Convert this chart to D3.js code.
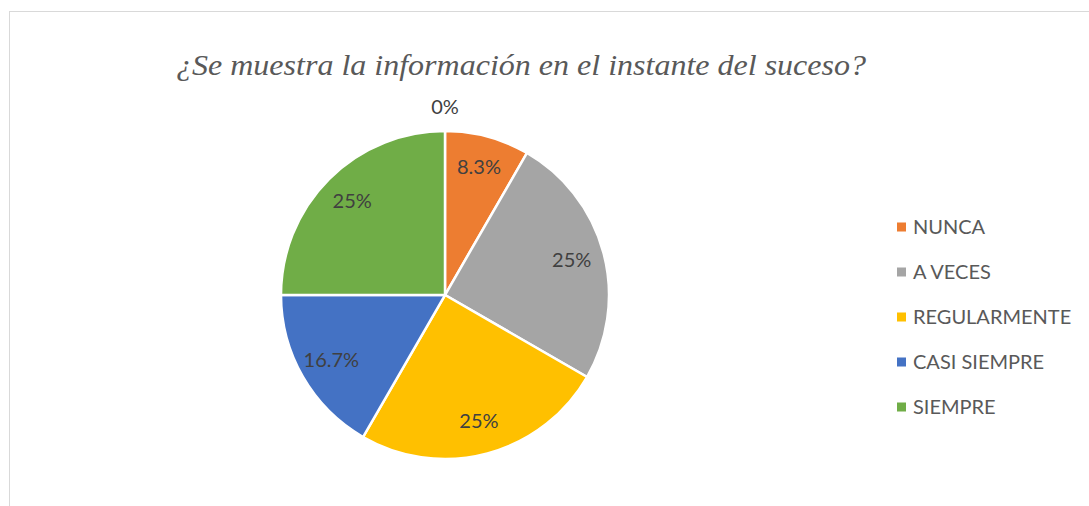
<!DOCTYPE html>
<html>
<head>
<meta charset="utf-8">
<script src="https://cdn.jsdelivr.net/npm/d3@7"></script>
<style>
  body { margin: 0; background: #fff; }
  svg { display: block; }
</style>
</head>
<body>
<div id="chart"></div>
<script>
const svgWidth = 1089;
const svgHeight = 506;

// data (counts out of 12 answers)
const categories = ["", "NUNCA", "A VECES", "REGULARMENTE", "CASI SIEMPRE", "SIEMPRE"];
const values = [0, 1, 3, 3, 2, 3];
const labels = ["0%", "8.3%", "25%", "25%", "16.7%", "25%"];
const colors = ["#FFFFFF", "#ED7D31", "#A5A5A5", "#FFC000", "#4472C4", "#70AD47"];

const title = "¿Se muestra la información en el instante del suceso?";

const cx = 445, cy = 295, radius = 164;

const svg = d3.select("#chart")
  .append("svg")
  .attr("width", svgWidth)
  .attr("height", svgHeight);

// chart frame (only top and left edges visible)
svg.append("rect")
  .attr("x", 9.5)
  .attr("y", 11.5)
  .attr("width", svgWidth)
  .attr("height", svgHeight)
  .attr("fill", "none")
  .attr("stroke", "#d9d9d9")
  .attr("stroke-width", 1);

svg.append("text")
  .attr("x", 521)
  .attr("y", 75)
  .attr("text-anchor", "middle")
  .attr("textLength", 690)
  .attr("lengthAdjust", "spacingAndGlyphs")
  .style("font-family", "'Liberation Serif', 'Times New Roman', 'DejaVu Serif', serif")
  .style("font-style", "italic")
  .style("font-size", "30px")
  .style("fill", "#595959")
  .text(title);

const data = categories.map((c, i) => ({ name: c, value: values[i], label: labels[i], color: colors[i] }));

const pie = d3.pie().sort(null).value(d => d.value);
const arcs = pie(data);

const arc = d3.arc().innerRadius(0).outerRadius(radius);
const labelArc = d3.arc().innerRadius(radius * 0.8).outerRadius(radius * 0.8);
const outerArc = d3.arc().innerRadius(radius * 1.14).outerRadius(radius * 1.14);

const pieGroup = svg.append("g")
  .attr("transform", `translate(${cx}, ${cy})`);

pieGroup.selectAll("path")
  .data(arcs.filter(d => d.data.value > 0))
  .enter()
  .append("path")
  .attr("d", arc)
  .attr("fill", d => d.data.color)
  .attr("stroke", "#fff")
  .attr("stroke-width", 2.5);

pieGroup.selectAll("text")
  .data(arcs)
  .enter()
  .append("text")
  .attr("transform", d => `translate(${(d.data.value > 0 ? labelArc : outerArc).centroid(d)})`)
  .attr("text-anchor", "middle")
  .attr("dy", "0.3em")
  .style("font-family", "Lato, 'Open Sans', sans-serif")
  .style("font-size", "20px")
  .style("fill", "#404040")
  .text(d => d.data.label);

// legend
const legendItems = data.filter(d => d.name !== "");
const legendY = d3.scalePoint()
  .domain(legendItems.map(d => d.name))
  .range([227, 407]);

const legend = svg.append("g")
  .selectAll("g")
  .data(legendItems)
  .enter()
  .append("g")
  .attr("transform", d => `translate(897, ${legendY(d.name)})`);

legend.append("rect")
  .attr("x", 0)
  .attr("y", -4.5)
  .attr("width", 9)
  .attr("height", 9)
  .attr("fill", d => d.color);

legend.append("text")
  .attr("x", 16)
  .attr("dy", "0.35em")
  .style("font-family", "Lato, 'Open Sans', sans-serif")
  .style("font-size", "20px")
  .style("fill", "#595959")
  .text(d => d.name);
</script>
</body>
</html>
